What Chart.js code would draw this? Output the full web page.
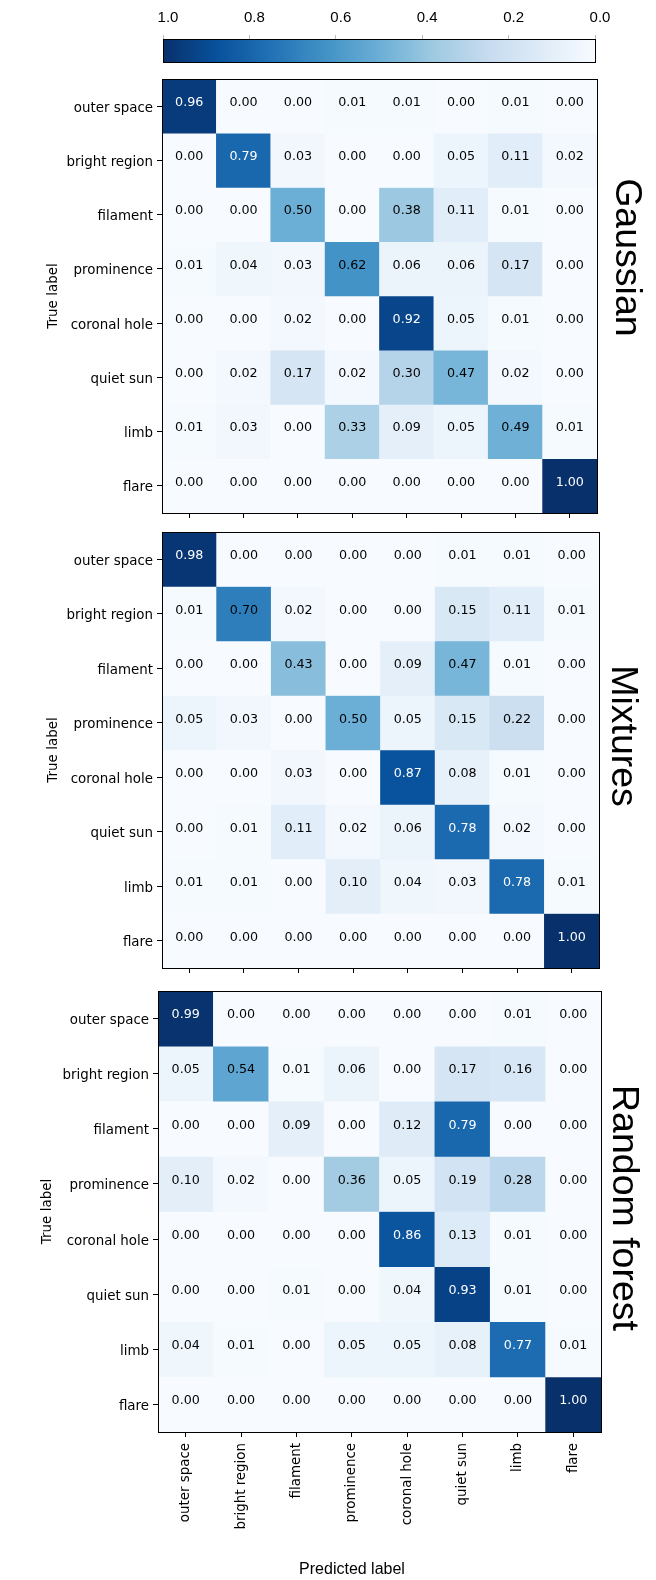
<!DOCTYPE html>
<html>
<head>
<meta charset="utf-8">
<script src="https://cdn.jsdelivr.net/npm/chart.js@4"></script>
<style>
  body { margin: 0; background: #fff; }
  #wrap { position: relative; width: 656px; height: 1580px; }
  canvas { position: absolute; left: 0; }
</style>
</head>
<body>
<div id="wrap">
  <canvas id="cbar" width="656" height="72" style="top:0px"></canvas>
  <canvas id="gauss" width="656" height="452" style="top:70px"></canvas>
  <canvas id="mix" width="656" height="452" style="top:522px"></canvas>
  <canvas id="forest" width="656" height="606" style="top:974px"></canvas>
</div>
<script>
// class names, same order on both axes
const trueLabels = ['outer space', 'bright region', 'filament', 'prominence', 'coronal hole', 'quiet sun', 'limb', 'flare']
const predLabels = ['outer space', 'bright region', 'filament', 'prominence', 'coronal hole', 'quiet sun', 'limb', 'flare']

// normalized confusion matrices (rows = true, cols = predicted)
const gaussianCm = [
  [0.96, 0.00, 0.00, 0.01, 0.01, 0.00, 0.01, 0.00],
  [0.00, 0.79, 0.03, 0.00, 0.00, 0.05, 0.11, 0.02],
  [0.00, 0.00, 0.50, 0.00, 0.38, 0.11, 0.01, 0.00],
  [0.01, 0.04, 0.03, 0.62, 0.06, 0.06, 0.17, 0.00],
  [0.00, 0.00, 0.02, 0.00, 0.92, 0.05, 0.01, 0.00],
  [0.00, 0.02, 0.17, 0.02, 0.30, 0.47, 0.02, 0.00],
  [0.01, 0.03, 0.00, 0.33, 0.09, 0.05, 0.49, 0.01],
  [0.00, 0.00, 0.00, 0.00, 0.00, 0.00, 0.00, 1.00]
]
const mixturesCm = [
  [0.98, 0.00, 0.00, 0.00, 0.00, 0.01, 0.01, 0.00],
  [0.01, 0.70, 0.02, 0.00, 0.00, 0.15, 0.11, 0.01],
  [0.00, 0.00, 0.43, 0.00, 0.09, 0.47, 0.01, 0.00],
  [0.05, 0.03, 0.00, 0.50, 0.05, 0.15, 0.22, 0.00],
  [0.00, 0.00, 0.03, 0.00, 0.87, 0.08, 0.01, 0.00],
  [0.00, 0.01, 0.11, 0.02, 0.06, 0.78, 0.02, 0.00],
  [0.01, 0.01, 0.00, 0.10, 0.04, 0.03, 0.78, 0.01],
  [0.00, 0.00, 0.00, 0.00, 0.00, 0.00, 0.00, 1.00]
]
const forestCm = [
  [0.99, 0.00, 0.00, 0.00, 0.00, 0.00, 0.01, 0.00],
  [0.05, 0.54, 0.01, 0.06, 0.00, 0.17, 0.16, 0.00],
  [0.00, 0.00, 0.09, 0.00, 0.12, 0.79, 0.00, 0.00],
  [0.10, 0.02, 0.00, 0.36, 0.05, 0.19, 0.28, 0.00],
  [0.00, 0.00, 0.00, 0.00, 0.86, 0.13, 0.01, 0.00],
  [0.00, 0.00, 0.01, 0.00, 0.04, 0.93, 0.01, 0.00],
  [0.04, 0.01, 0.00, 0.05, 0.05, 0.08, 0.77, 0.01],
  [0.00, 0.00, 0.00, 0.00, 0.00, 0.00, 0.00, 1.00]
]

// colorbar ticks
const cbarTicks = [1.0, 0.8, 0.6, 0.4, 0.2, 0.0]

// matplotlib "Blues" anchor colours
const blues = ['#f7fbff', '#deebf7', '#c6dbef', '#9ecae1', '#6baed6', '#4292c6', '#2171b5', '#08519c', '#08306b']

function hexToRgb(h) {
  return [parseInt(h.slice(1, 3), 16), parseInt(h.slice(3, 5), 16), parseInt(h.slice(5, 7), 16)]
}

// value in [0,1] -> colour
function bluesColor(v) {
  const t = Math.max(0, Math.min(1, v)) * (blues.length - 1)
  const i = Math.min(Math.floor(t), blues.length - 2)
  const f = t - i
  const a = hexToRgb(blues[i])
  const b = hexToRgb(blues[i + 1])
  const c = a.map((x, k) => Math.round(x + (b[k] - x) * f))
  return `rgb(${c[0]}, ${c[1]}, ${c[2]})`
}

const tickFont = { family: 'DejaVu Sans', size: 13.4 }

// black box round the plot area
const framePlugin = {
  id: 'frame',
  afterDraw(chart) {
    const { ctx, chartArea: a } = chart
    ctx.save()
    ctx.strokeStyle = '#000'
    ctx.lineWidth = 1
    ctx.strokeRect(Math.round(a.left) + 0.5, Math.round(a.top) + 0.5, Math.round(a.right - a.left), Math.round(a.bottom - a.top))
    ctx.restore()
  }
}

// numbers inside the cells
const cellTextPlugin = {
  id: 'cellText',
  afterDatasetsDraw(chart) {
    const { ctx } = chart
    ctx.save()
    ctx.font = '12.7px "DejaVu Sans"'
    ctx.textAlign = 'center'
    ctx.textBaseline = 'middle'
    chart.data.datasets.forEach((ds, i) => {
      chart.getDatasetMeta(i).data.forEach((bar, j) => {
        const v = ds.values[j]
        ctx.fillStyle = v > 0.75 ? '#fff' : '#000'
        ctx.fillText(v.toFixed(2), bar.x, (bar.y + bar.base) / 2 - 3.5)
      })
    })
    ctx.restore()
  }
}

// rotated model name on the right, optional label under the last panel
const sideTitlePlugin = {
  id: 'sideTitle',
  afterDraw(chart, args, opts) {
    const { ctx, chartArea: a } = chart
    ctx.save()
    ctx.fillStyle = '#000'
    ctx.textAlign = 'center'
    ctx.textBaseline = 'middle'
    if (opts.text) {
      ctx.save()
      ctx.translate(a.right + opts.dx, (a.top + a.bottom) / 2 + opts.dy)
      ctx.rotate(Math.PI / 2)
      ctx.font = '37.5px "Liberation Sans"'
      ctx.fillText(opts.text, 0, 0)
      ctx.restore()
    }
    if (opts.xTitle) {
      ctx.font = '16px "Liberation Sans"'
      ctx.fillText(opts.xTitle, opts.xTitleX, chart.height - opts.xTitleUp)
    }
    ctx.restore()
  }
}

function buildMatrix(id, cm, layout) {
  const datasets = cm.map((row, i) => ({
    label: trueLabels[i],
    data: predLabels.map(() => [i - 0.5, i + 0.5]),
    values: row,
    backgroundColor: row.map(bluesColor),
    borderWidth: 0,
    categoryPercentage: 1,
    barPercentage: 1,
    grouped: false
  }))

  return new Chart(document.getElementById(id), {
    type: 'bar',
    data: { labels: predLabels, datasets },
    plugins: [framePlugin, cellTextPlugin, sideTitlePlugin],
    options: {
      responsive: false,
      animation: false,
      layout: { autoPadding: false, padding: { top: layout.top, right: 656 - layout.right, left: 0, bottom: 0 } },
      plugins: {
        legend: { display: false },
        tooltip: { enabled: false },
        sideTitle: {
          text: layout.title,
          dx: layout.titleDx,
          dy: layout.titleDy,
          xTitle: layout.showX ? 'Predicted label' : '',
          xTitleX: 352,
          xTitleUp: 10
        }
      },
      scales: {
        x: {
          type: 'category',
          grid: { offset: false, drawOnChartArea: false, drawTicks: true, tickLength: 5, color: '#000' },
          border: { display: true, color: '#000' },
          ticks: {
            display: layout.showX,
            minRotation: 90,
            maxRotation: 90,
            padding: 6,
            color: '#000',
            font: tickFont
          },
          afterFit(scale) {
            scale.height = layout.xHeight
            scale.paddingLeft = 0
            scale.paddingRight = 0
          }
        },
        y: {
          type: 'linear',
          min: -0.5,
          max: 7.5,
          reverse: true,
          afterBuildTicks(scale) { scale.ticks = trueLabels.map((_, i) => ({ value: i })) },
          grid: { drawOnChartArea: false, drawTicks: true, tickLength: 5, color: '#000' },
          border: { display: true, color: '#000' },
          ticks: {
            callback: (v) => trueLabels[v],
            padding: 4,
            labelOffset: 2,
            color: '#000',
            font: tickFont
          },
          title: {
            display: true,
            text: 'True label',
            color: '#000',
            font: { family: 'DejaVu Sans', size: 13.5 },
            padding: { top: layout.yTitlePad, bottom: 0 }
          },
          afterFit(scale) {
            scale.width = layout.left
            scale.paddingTop = 0
            scale.paddingBottom = 0
          }
        }
      }
    }
  })
}

// colorbar across the top, 1.0 on the left
new Chart(document.getElementById('cbar'), {
  type: 'bar',
  data: {
    labels: ['cbar'],
    datasets: [{
      data: [[0, 1]],
      borderWidth: 0,
      categoryPercentage: 1,
      barPercentage: 1,
      backgroundColor(c) {
        const area = c.chart.chartArea
        if (!area) return blues[4]
        const g = c.chart.ctx.createLinearGradient(area.right, 0, area.left, 0)
        blues.forEach((col, k) => g.addColorStop(k / (blues.length - 1), col))
        return g
      }
    }]
  },
  plugins: [framePlugin],
  options: {
    indexAxis: 'y',
    responsive: false,
    animation: false,
    layout: { autoPadding: false, padding: { top: 0, right: 656 - 595, left: 163, bottom: 10 } },
    plugins: { legend: { display: false }, tooltip: { enabled: false } },
    scales: {
      x: {
        type: 'linear',
        position: 'top',
        min: 0,
        max: 1,
        reverse: true,
        afterBuildTicks(scale) { scale.ticks = cbarTicks.map((v) => ({ value: v })) },
        grid: { drawOnChartArea: false, drawTicks: true, tickLength: 4, color: '#bbb' },
        border: { display: false },
        ticks: {
          callback: (v) => v.toFixed(1),
          padding: 8,
          labelOffset: 5,
          color: '#000',
          font: { family: 'Liberation Sans', size: 15 }
        },
        afterFit(scale) {
          scale.height = 39
          scale.paddingLeft = 0
          scale.paddingRight = 0
        }
      },
      y: { display: false }
    }
  }
})

buildMatrix('gauss', gaussianCm, { top: 9, right: 597, left: 162, xHeight: 9, showX: false, yTitlePad: 45.5, title: 'Gaussian', titleDx: 29.5, titleDy: -38.6 })
buildMatrix('mix', mixturesCm, { top: 10, right: 599, left: 162, xHeight: 6, showX: false, yTitlePad: 45.5, title: 'Mixtures', titleDx: 23.5, titleDy: -14 })
buildMatrix('forest', forestCm, { top: 17, right: 601, left: 158, xHeight: 148, showX: true, yTitlePad: 39, title: 'Random forest', titleDx: 22, titleDy: -3.5 })
</script>
</body>
</html>
